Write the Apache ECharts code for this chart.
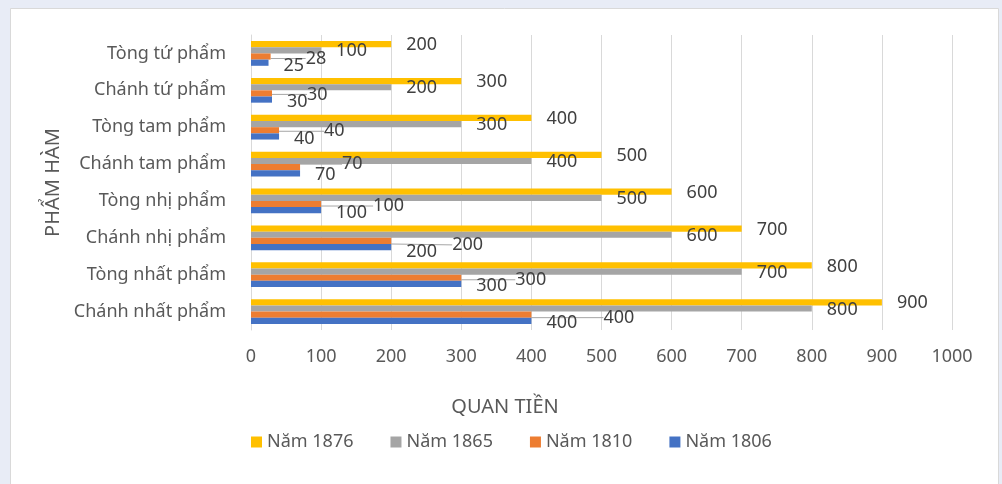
<!DOCTYPE html>
<html>
<head>
<meta charset="utf-8">
<script src="https://cdn.jsdelivr.net/npm/echarts@6/dist/echarts.min.js"></script>
<style>
html,body{margin:0;padding:0;background:#e8ecf6;}
#chart{width:1002px;height:484px;}
</style>
</head>
<body>
<div id="chart"></div>
<script>
// ---- data ----
var categories = ['Tòng tứ phẩm','Chánh tứ phẩm','Tòng tam phẩm','Chánh tam phẩm','Tòng nhị phẩm','Chánh nhị phẩm','Tòng nhất phẩm','Chánh nhất phẩm'];
var seriesNames = ['Năm 1876','Năm 1865','Năm 1810','Năm 1806'];
var values1876 = [200,300,400,500,600,700,800,900];
var values1865 = [100,200,300,400,500,600,700,800];
var values1810 = [28,30,40,70,100,200,300,400];
var values1806 = [25,30,40,70,100,200,300,400];
var xTicks = [0,100,200,300,400,500,600,700,800,900,1000];

// ---- label layout (callout displacements, px) ----
var shift1876 = [[0,1],[0,1],[0,1],[0,1],[0,1],[0,1],[0,1],[0,1]];
var shift1865 = [[0,1],[0,1],[0,1],[0,1],[0,1],[0,1],[0,1],[0,1]];
var shift1810 = [[20,2],[20,1],[30,1],[27,-3],[37,2],[46,4],[39,2],[57,3]];
var shift1806 = [[0,3],[0,2],[0,2],[0,2],[0,3],[0,5],[0,2],[0,2]];

var colors = ['#FFC000','#A5A5A5','#ED7D31','#4472C4'];
var FONT = 'Noto Sans';
var seriesData = [values1876, values1865, values1810, values1806];
var shifts = [shift1876, shift1865, shift1810, shift1806];

var chart = echarts.init(document.getElementById('chart'), null, {renderer:'canvas'});

var series = seriesNames.map(function(name, i){
  var sh = shifts[i];
  var s = {
    name: name,
    type: 'bar',
    data: seriesData[i],
    barGap: '0%',
    barCategoryGap: '33%',
    itemStyle: {color: colors[i]},
    label: {
      show: true,
      position: 'right',
      distance: 15,
      color: '#404040',
      fontFamily: FONT,
      fontSize: 18
    },
    labelLayout: function(p){ var d = sh[p.dataIndex]; return {dx: d[0], dy: d[1]}; },
    emphasis: {disabled: true},
    animation: false
  };
  if (i === 2) {
    s.labelLine = {show: true, lineStyle: {color: '#A6A6A6', width: 1}};
  }
  return s;
});

var option = {
  backgroundColor: '#e8ecf6',
  animation: false,
  textStyle: {fontFamily: FONT},
  graphic: [
    {type:'rect', z:-10, shape:{x:10.5, y:8.5, width:988, height:480}, style:{fill:'#ffffff', stroke:'#d9d9d9', lineWidth:1}, silent:true},
    {type:'text', x:505, y:407, style:{text:'QUAN TIỀN', fill:'#595959', font:'20px "Noto Sans"', align:'center', verticalAlign:'middle'}, silent:true}
  ],
  grid: {left: 251, right: 50, top: 35, bottom: 154, containLabel: false},
  legend: {
    data: seriesNames,
    left: 246,
    top: 428,
    itemWidth: 11,
    itemHeight: 11,
    itemGap: 37,
    icon: 'rect',
    textStyle: {color:'#595959', fontSize:18, fontFamily: FONT},
    selectedMode: false
  },
  xAxis: {
    type: 'value',
    min: xTicks[0],
    max: xTicks[xTicks.length-1],
    interval: xTicks[1]-xTicks[0],
    axisLine: {show:false},
    axisTick: {show:false},
    splitLine: {show:true, lineStyle:{color:'#d9d9d9', width:1}},
    axisLabel: {color:'#595959', fontSize:18, fontFamily:FONT, margin:18, formatter: function(v){ return String(v); }}
  },
  yAxis: {
    type: 'category',
    data: categories,
    inverse: true,
    name: 'PHẨM HÀM',
    nameLocation: 'middle',
    nameRotate: 90,
    nameGap: 185,
    nameTextStyle: {color:'#595959', fontSize:20, fontFamily:FONT},
    axisLine: {show:true, lineStyle:{color:'#d9d9d9', width:1}},
    axisTick: {show:false},
    axisLabel: {color:'#595959', fontSize:18, fontFamily:FONT, margin:25}
  },
  series: series
};
chart.setOption(option);
</script>
</body>
</html>
